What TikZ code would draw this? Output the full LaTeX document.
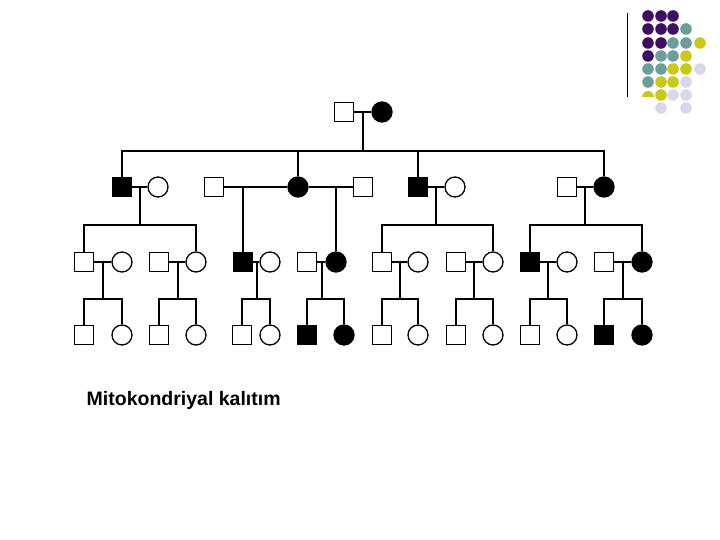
\documentclass[tikz,border=0pt]{standalone}
\usepackage{fontspec}
\setmainfont{Liberation Sans}
\definecolor{dpurple}{HTML}{3E1062}
\definecolor{dteal}{HTML}{6E9E9C}
\definecolor{dyel}{HTML}{C8C81E}
\definecolor{dlav}{HTML}{D8D8E8}
\begin{document}
\begin{tikzpicture}[x=1pt,y=-1pt, line width=1.4pt,
  sq/.style={draw, rectangle, minimum size=19pt, inner sep=0pt, line width=1.3pt, fill=white},
  fsq/.style={sq, fill=black},
  ci/.style={draw, circle, minimum size=20pt, inner sep=0pt, line width=1.3pt, fill=white},
  fci/.style={ci, fill=black}]
\useasboundingbox (0,0) rectangle (720,540);

% decorative dots
\draw[line width=0.9pt] (627,13) -- (627,97);
\foreach \x/\y/\c in {648/16/dpurple,661/16/dpurple,673/16/dpurple,
  648/29/dpurple,661/29/dpurple,673/29/dpurple,686/29/dteal,
  648/43/dpurple,661/43/dpurple,673/43/dteal,686/43/dteal,700/43/dyel,
  648/56/dpurple,661/56/dteal,673/56/dteal,686/56/dyel,
  648/69/dteal,661/69/dteal,673/69/dyel,686/69/dyel,700/69/dlav,
  648/82/dteal,661/82/dyel,673/82/dyel,686/82/dlav,
  661/95/dyel,673/95/dlav,686/95/dlav,
  661/108/dlav,686/108/dlav}
  {\fill[\c] (\x,\y) circle (5.8);}
\begin{scope}
  \path[clip] (640,85) rectangle (656,97);
  \fill[dyel] (648,97) circle (6);
\end{scope}

% Generation I
\node[sq]  (A) at (344,112) {};
\node[fci] (B) at (382,112) {};
\draw (A) -- (B);
\coordinate (j0) at (363,112);
\coordinate (b0) at (363,151);
\draw (j0) -- (b0);

% Generation II
\node[fsq] (c1) at (122,187) {};
\node[ci]  (w1) at (158,187) {};
\node[sq]  (h2) at (214,187) {};
\node[fci] (c2) at (298,187) {};
\node[sq]  (h2b) at (363,187) {};
\node[fsq] (c3) at (418,187) {};
\node[ci]  (w3) at (455,187) {};
\node[sq]  (h4) at (567,187) {};
\node[fci] (c4) at (604,187) {};
\draw (c1.north) |- (b0) -| (c4.north);
\draw (c2.north) -- (c2.north |- b0);
\draw (c3.north) -- (c3.north |- b0);
\draw (c1) -- (w1);
\draw (h2) -- (c2) -- (h2b);
\draw (c3) -- (w3);
\draw (h4) -- (c4);
\coordinate (j1) at (140,187);  \coordinate (b1) at (140,225);
\coordinate (j2a) at (243,187);
\coordinate (j2b) at (336,187);
\coordinate (j3) at (436,187);  \coordinate (b3) at (436,225);
\coordinate (j4) at (585,187);  \coordinate (b4) at (585,225);
\draw (j1) -- (b1);
\draw (j3) -- (b3);
\draw (j4) -- (b4);

% Generation III
\node[sq]  (d1) at (84,262) {};
\node[ci]  (d1w) at (122,262) {};
\node[sq]  (d2h) at (159,262) {};
\node[ci]  (d2) at (196,262) {};
\node[fsq] (d3) at (243,262) {};
\node[ci]  (d3w) at (270,262) {};
\node[sq]  (d4h) at (307,262) {};
\node[fci] (d4) at (336,262) {};
\node[sq]  (d5) at (382,262) {};
\node[ci]  (d5w) at (418,262) {};
\node[sq]  (d6h) at (456,262) {};
\node[ci]  (d6) at (493,262) {};
\node[fsq] (d7) at (530,262) {};
\node[ci]  (d7w) at (567,262) {};
\node[sq]  (d8h) at (604,262) {};
\node[fci] (d8) at (642,262) {};
\draw (d1.north) |- (b1) -| (d2.north);
\draw (j2a) -- (d3.north);
\draw (j2b) -- (d4.north);
\draw (d5.north) |- (b3) -| (d6.north);
\draw (d7.north) |- (b4) -| (d8.north);
\draw (d1) -- (d1w);
\draw (d2h) -- (d2);
\draw (d3) -- (d3w);
\draw (d4h) -- (d4);
\draw (d5) -- (d5w);
\draw (d6h) -- (d6);
\draw (d7) -- (d7w);
\draw (d8h) -- (d8);

% Generation IV
\foreach \n/\jx/\ax/\bx/\sa/\sb in {1/103/84/122/sq/ci, 2/178/159/196/sq/ci,
   3/257/242/270/sq/ci, 4/322/307/344/fsq/fci, 5/400/382/418/sq/ci,
   6/474/456/493/sq/ci, 7/548/530/567/sq/ci, 8/623/604/642/fsq/fci}{
  \coordinate (k\n) at (\jx,262);
  \coordinate (m\n) at (\jx,299);
  \node[\sa] (e\n a) at (\ax,335) {};
  \node[\sb] (e\n b) at (\bx,335) {};
  \draw (k\n) -- (m\n);
  \draw (e\n a.north) |- (m\n) -| (e\n b.north);
}

\node[anchor=base west, inner sep=0pt, font=\bfseries\fontsize{19.5}{23}\selectfont] (cap) at (86,405) {Mitokondriyal kalıtım};
\end{tikzpicture}
\end{document}
